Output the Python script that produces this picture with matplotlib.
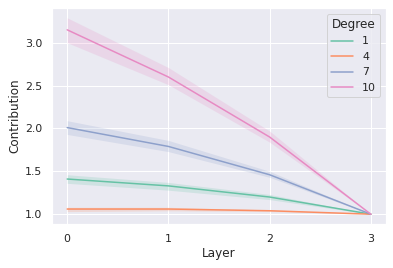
import matplotlib
matplotlib.use("Agg")
import matplotlib.pyplot as plt
import seaborn as sns
import numpy as np

sns.set_theme(style="darkgrid")

layers = [0, 1, 2, 3]
degrees = ["1", "4", "7", "10"]
mean_1 = [1.41, 1.33, 1.20, 1.00]
mean_4 = [1.06, 1.06, 1.04, 1.00]
mean_7 = [2.01, 1.79, 1.46, 1.00]
mean_10 = [3.15, 2.60, 1.90, 1.00]
lo_1 = [1.36, 1.28, 1.17, 1.00]
hi_1 = [1.46, 1.37, 1.23, 1.00]
lo_4 = [1.03, 1.04, 1.03, 1.00]
hi_4 = [1.08, 1.08, 1.05, 1.00]
lo_7 = [1.93, 1.73, 1.43, 1.00]
hi_7 = [2.09, 1.86, 1.50, 1.00]
lo_10 = [3.00, 2.51, 1.84, 1.00]
hi_10 = [3.29, 2.71, 1.97, 1.00]

means = [mean_1, mean_4, mean_7, mean_10]
los = [lo_1, lo_4, lo_7, lo_10]
his = [hi_1, hi_4, hi_7, hi_10]
colors = sns.color_palette("Set2", 4)

W, H = 393, 268
fig = plt.figure(figsize=(W / 72, H / 72), dpi=72)
ax = fig.add_axes([52 / W, (H - 224) / H, (386 - 52) / W, (224 - 8) / H])
for d, m, lo, hi, c in zip(degrees, means, los, his, colors):
    ax.plot(layers, m, color=c, label=d, linewidth=1.5)
    ax.fill_between(layers, lo, hi, color=c, alpha=0.2, linewidth=0)
ax.set_xticks(layers)
ax.set_xlabel("Layer")
ax.set_ylabel("Contribution")
ax.legend(title="Degree", loc="upper right")
fig.savefig("out.png", dpi=72)
